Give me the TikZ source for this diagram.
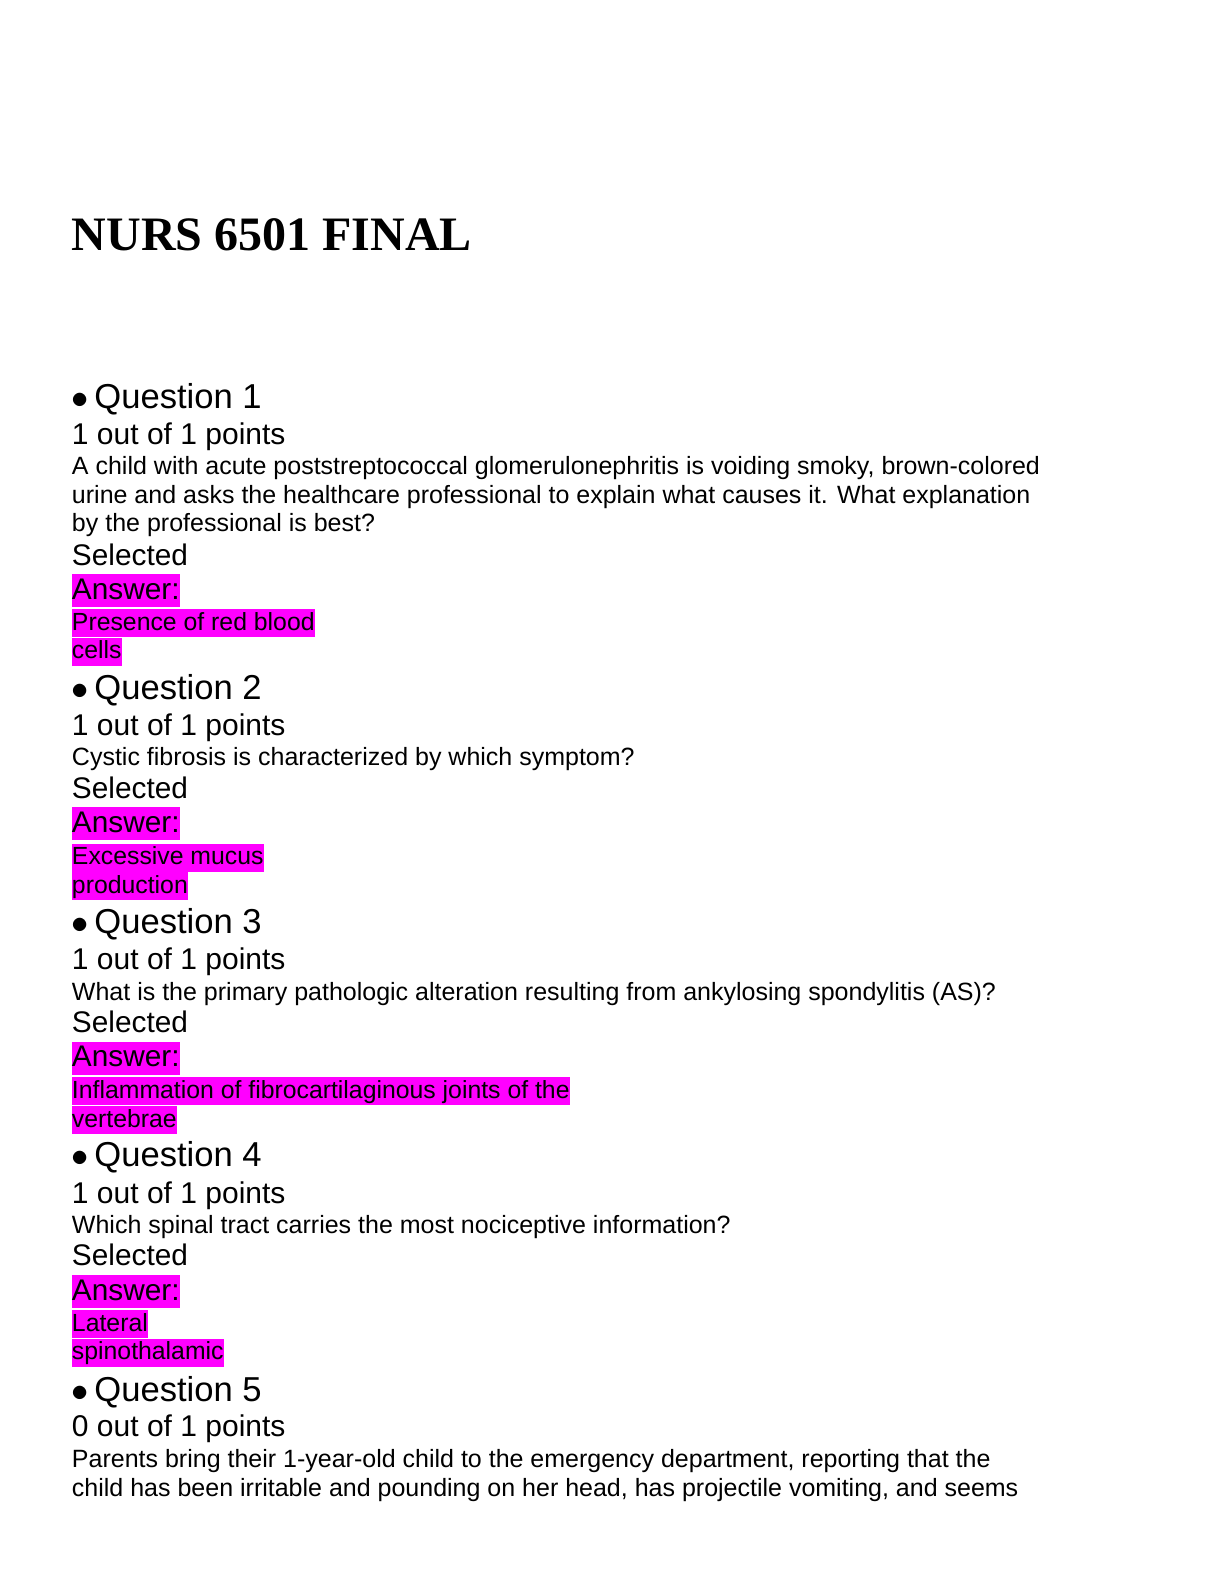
\documentclass[tikz,border=0pt]{standalone}
\usepackage{fontspec}
\setmainfont{Liberation Sans}
\newfontfamily\titlefont{Liberation Serif}
\definecolor{hlmag}{RGB}{255,0,255}
\begin{document}
\begin{tikzpicture}[x=0.5bp,y=-0.5051bp,
  every node/.style={anchor=base west,inner sep=0pt,outer sep=0pt},
  ttl/.style={font=\titlefont\bfseries\fontsize{24bp}{26bp}\selectfont},
  qh/.style={font=\fontsize{17.3bp}{20bp}\selectfont},
  pts/.style={font=\fontsize{15bp}{17bp}\selectfont},
  body/.style={font=\fontsize{12.5bp}{14bp}\selectfont},
  lbl/.style={font=\fontsize{14.9bp}{17bp}\selectfont},
  ans/.style={lbl,fill=hlmag,text height=12.5bp,text depth=4bp},
  atx/.style={font=\fontsize{12.4bp}{14bp}\selectfont,fill=hlmag,text height=10.5bp,text depth=3.5bp}]
\useasboundingbox[fill=white] (0,0) rectangle (1224,1568);
\newcommand{\qb}{$\bullet$\hspace{0.15em}}
\node[ttl] (t) at (72,248) {NURS 6501 FINAL};
% Q1
\node[qh] (q1) at (72,404) {\qb Question 1};
\node[pts] (p1) at (72,440) {1 out of 1 points};
\node[body] (b1a) at (72,470) {A child with acute poststreptococcal glomerulonephritis is voiding smoky, brown-colored};
\node[body] (b1b) at (72,498) {urine and asks the healthcare professional to explain what causes it. What explanation};
\node[body] (b1c) at (72,526) {by the professional is best?};
\node[lbl] (s1) at (72,560) {Selected};
\node[ans] (a1) at (72,593) {Answer:};
\node[atx] (r1a) at (72,624) {Presence of red blood};
\node[atx] (r1b) at (72,652) {cells};
% Q2
\node[qh] (q2) at (72,692) {\qb Question 2};
\node[pts] (p2) at (72,728) {1 out of 1 points};
\node[body] (b2a) at (72,758) {Cystic fibrosis is characterized by which symptom?};
\node[lbl] (s2) at (72,790) {Selected};
\node[ans] (a2) at (72,824) {Answer:};
\node[atx] (r2a) at (72,856) {Excessive mucus};
\node[atx] (r2b) at (72,884) {production};
% Q3
\node[qh] (q3) at (72,924) {\qb Question 3};
\node[pts] (p3) at (72,960) {1 out of 1 points};
\node[body] (b3a) at (72,990) {What is the primary pathologic alteration resulting from ankylosing spondylitis (AS)?};
\node[lbl] (s3) at (72,1022) {Selected};
\node[ans] (a3) at (72,1056) {Answer:};
\node[atx] (r3a) at (72,1087) {Inflammation of fibrocartilaginous joints of the};
\node[atx] (r3b) at (72,1116) {vertebrae};
% Q4
\node[qh] (q4) at (72,1155) {\qb Question 4};
\node[pts] (p4) at (72,1191) {1 out of 1 points};
\node[body] (b4a) at (72,1221) {Which spinal tract carries the most nociceptive information?};
\node[lbl] (s4) at (72,1253) {Selected};
\node[ans] (a4) at (72,1287) {Answer:};
\node[atx] (r4a) at (72,1318) {Lateral};
\node[atx] (r4b) at (72,1346) {spinothalamic};
% Q5
\node[qh] (q5) at (72,1387) {\qb Question 5};
\node[pts] (p5) at (72,1422) {0 out of 1 points};
\node[body] (b5a) at (72,1453) {Parents bring their 1-year-old child to the emergency department, reporting that the};
\node[body] (b5b) at (72,1481) {child has been irritable and pounding on her head, has projectile vomiting, and seems};
\end{tikzpicture}
\end{document}
